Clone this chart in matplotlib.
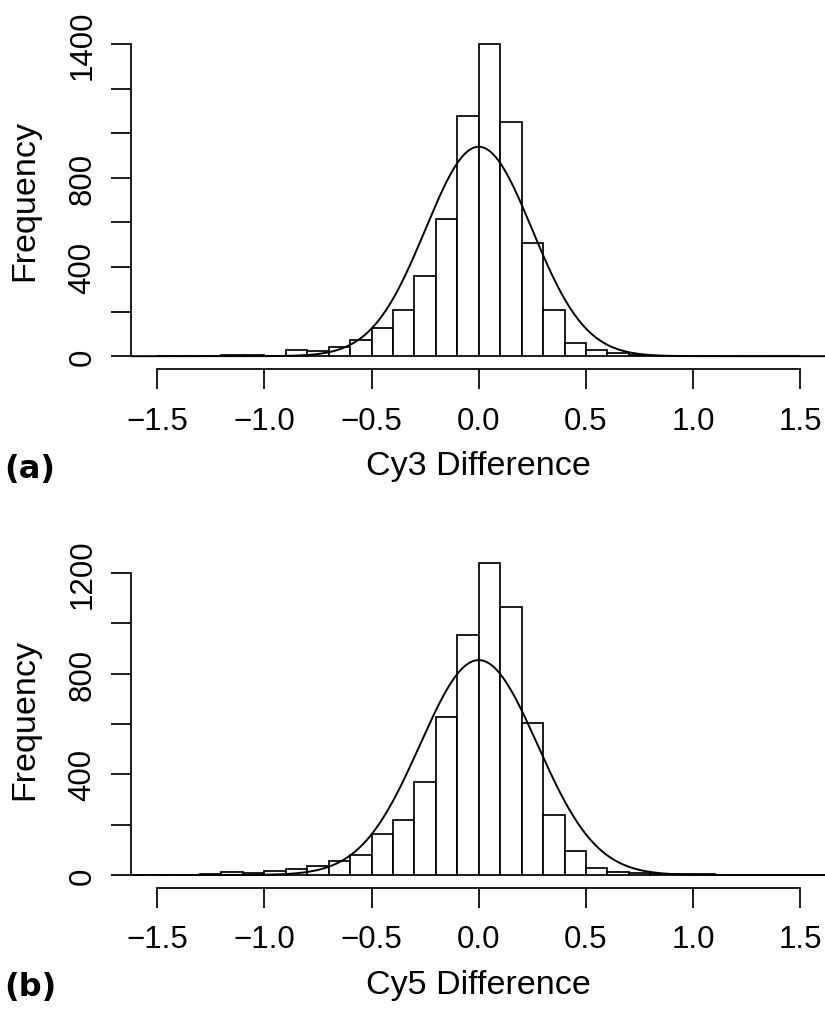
import numpy as np
import matplotlib
matplotlib.use("Agg")
import matplotlib.pyplot as plt

plt.rcParams['font.family'] = ['Liberation Sans', 'DejaVu Sans']

# ---- data ----
bin_left = np.round(np.arange(-1.5, 1.5, 0.1), 2)          # 30 bins of width 0.1
bin_width = 0.1

counts_cy3 = [0, 0, 0, 4, 5, 3, 30, 25, 43, 73, 127, 209, 358, 615, 1078,
              1401, 1052, 507, 206, 57, 27, 15, 7, 3, 2, 2, 0, 0, 0, 0]
counts_cy5 = [0, 0, 4, 10, 8, 17, 24, 34, 56, 81, 163, 217, 370, 626, 954,
              1242, 1064, 603, 240, 97, 29, 11, 7, 4, 3, 2, 0, 0, 0, 0]

fit_mean = [0.0, 0.0]
fit_sd = [0.2485, 0.274]

x_ticks = [-1.5, -1.0, -0.5, 0.0, 0.5, 1.0, 1.5]
x_ticklabels = ["\u22121.5", "\u22121.0", "\u22120.5", "0.0", "0.5", "1.0", "1.5"]
y_ticks_a = [0, 200, 400, 600, 800, 1000, 1200, 1400]
y_ticklabels_a = ["0", "", "400", "", "800", "", "", "1400"]
y_ticks_b = [0, 200, 400, 600, 800, 1000, 1200]
y_ticklabels_b = ["0", "", "400", "", "800", "", "1200"]

xlabels = ["Cy3 Difference", "Cy5 Difference"]
panel_tags = ["(a)", "(b)"]

# ---- layout (pixels) ----
W, H = 825, 1012
fig = plt.figure(figsize=(W / 100, H / 100), dpi=100)

def px_axes(left, top, right, bottom):
    return fig.add_axes([left / W, 1 - bottom / H, (right - left) / W, (bottom - top) / H])

ax_a = px_axes(131.4, 32.2, 826.1, 369.7)
ax_b = px_axes(131.4, 551.0, 826.1, 888.5)

TICK_FS = 22.5
LAB_FS = 24.5

panels = [
    (ax_a, counts_cy3, y_ticks_a, y_ticklabels_a, 467, 470),
    (ax_b, counts_cy5, y_ticks_b, y_ticklabels_b, 986, 988),
]

for i, (ax, counts, yt, ytl, xlab_y, tag_y) in enumerate(panels):
    counts = np.asarray(counts, dtype=float)
    ax.bar(bin_left, counts, width=bin_width, align='edge', facecolor='white',
           edgecolor='black', linewidth=1.25, zorder=2)
    xlim = (-1.62, 1.62)
    xs = np.linspace(xlim[0], xlim[1], 600)
    n = counts.sum()
    dens = n * bin_width * np.exp(-0.5 * ((xs - fit_mean[i]) / fit_sd[i]) ** 2) / (fit_sd[i] * np.sqrt(2 * np.pi))
    ax.plot(xs, dens, color='black', linewidth=1.4, zorder=3)

    ymax = counts.max()
    ax.set_xlim(*xlim)
    ax.set_ylim(-0.04 * ymax, 1.04 * ymax)

    for s in ['top', 'right']:
        ax.spines[s].set_visible(False)
    ax.spines['left'].set_bounds(yt[0], yt[-1])
    ax.spines['bottom'].set_bounds(x_ticks[0], x_ticks[-1])
    for s in ['left', 'bottom']:
        ax.spines[s].set_linewidth(1.25)

    ax.set_xticks(x_ticks)
    ax.set_xticklabels(x_ticklabels)
    ax.set_yticks(yt)
    ax.set_yticklabels(ytl)
    ax.tick_params(axis='both', direction='out', length=14.5, width=1.25, labelsize=TICK_FS)
    ax.tick_params(axis='x', pad=12)
    ax.tick_params(axis='y', pad=10, labelrotation=90)
    for lab in ax.get_yticklabels():
        lab.set_va('center')

    pos = ax.get_position()
    yc = (pos.y0 + pos.y1) / 2
    fig.text(25 / W, yc, "Frequency", rotation=90, ha='center', va='center', fontsize=LAB_FS)
    fig.text(478.7 / W, 1 - xlab_y / H, xlabels[i], ha='center', va='center', fontsize=LAB_FS)
    fig.text(30 / W, 1 - tag_y / H, panel_tags[i], ha='center', va='center', fontsize=23,
             fontweight='bold', family=['DejaVu Sans'])

fig.savefig("out.png", dpi=100)
